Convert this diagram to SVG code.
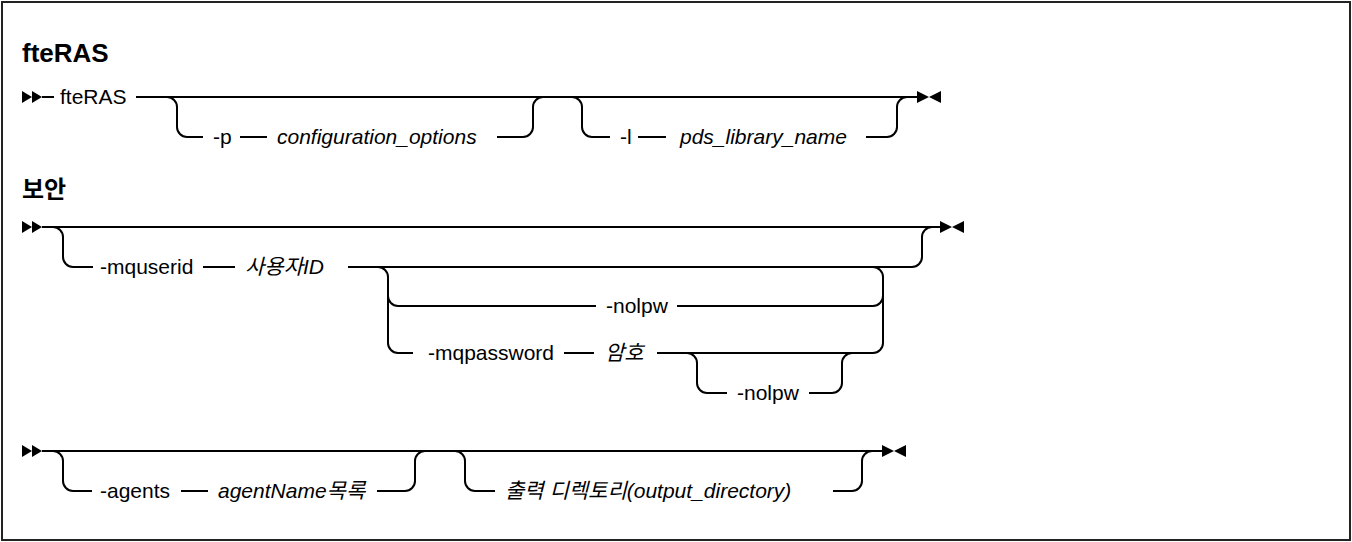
<svg xmlns="http://www.w3.org/2000/svg" width="1352" height="542" viewBox="0 0 1352 542">
<style>
.t{font-family:"Liberation Sans","Noto Sans CJK KR",sans-serif;font-size:21px;fill:#000}
.i{font-style:italic}
.h{font-family:"Liberation Sans","Noto Sans CJK KR",sans-serif;font-size:26px;font-weight:bold;fill:#000}
.hk{font-family:"Noto Sans CJK KR",sans-serif;font-size:24px;font-weight:bold;fill:#000}
.c{fill:none;stroke:#000;stroke-width:2}
.m{fill:#000}
</style>
<defs>
<g id="start"><polygon class="m" points="0,-6 10,0 0,6"/><polygon class="m" points="10,-6 20,0 10,6"/></g>
<g id="end"><polygon class="m" points="0,-6 12,0 0,6"/><polygon class="m" points="24,-6 12,0 24,6"/></g>
</defs>
<rect x="2" y="2" width="1348" height="538" fill="#fff" stroke="#222" stroke-width="2"/>

<g id="title-fteRAS"><text class="h" x="22" y="62">fteRAS</text></g>
<g id="title-security"><text class="hk" x="22" y="198">보안</text></g>

<g id="connectors">
<!-- row 1 -->
<use href="#start" x="22" y="97"/>
<path class="c" d="M42,97 H54"/>
<path class="c" d="M136,97 H918"/>
<path class="c" d="M167,97 a10,10 0 0 1 10,10 V127 a10,10 0 0 0 10,10 H203"/>
<path class="c" d="M240,137 H267"/>
<path class="c" d="M497,137 H523 a10,10 0 0 0 10,-10 V107 a10,10 0 0 1 10,-10"/>
<path class="c" d="M572,97 a10,10 0 0 1 10,10 V127 a10,10 0 0 0 10,10 H610"/>
<path class="c" d="M638,137 H666"/>
<path class="c" d="M866,137 H887 a10,10 0 0 0 10,-10 V107 a10,10 0 0 1 10,-10"/>
<use href="#end" x="917" y="97"/>
<!-- row 2 -->
<use href="#start" x="22" y="227"/>
<path class="c" d="M42,227 H941"/>
<path class="c" d="M53,227 a10,10 0 0 1 10,10 V257 a10,10 0 0 0 10,10 H93"/>
<path class="c" d="M203,267 H235"/>
<path class="c" d="M348,267 H912 a10,10 0 0 0 10,-10 V237 a10,10 0 0 1 10,-10"/>
<path class="c" d="M378,267 a10,10 0 0 1 10,10 V343 a10,10 0 0 0 10,10 H413"/>
<path class="c" d="M388,296 a10,10 0 0 0 10,10 H596"/>
<path class="c" d="M677,306 H873 a10,10 0 0 0 10,-10"/>
<path class="c" d="M564,353 H594"/>
<path class="c" d="M657,353 H873 a10,10 0 0 0 10,-10 V277 a10,10 0 0 0 -10,-10"/>
<path class="c" d="M687,353 a10,10 0 0 1 10,10 V383 a10,10 0 0 0 10,10 H727"/>
<path class="c" d="M809,393 H832 a10,10 0 0 0 10,-10 V363 a10,10 0 0 1 10,-10"/>
<use href="#end" x="940" y="227"/>
<!-- row 3 -->
<use href="#start" x="22" y="451"/>
<path class="c" d="M42,451 H883"/>
<path class="c" d="M53,451 a10,10 0 0 1 10,10 V481 a10,10 0 0 0 10,10 H92"/>
<path class="c" d="M181,491 H208"/>
<path class="c" d="M377,491 H405 a10,10 0 0 0 10,-10 V461 a10,10 0 0 1 10,-10"/>
<path class="c" d="M455,451 a10,10 0 0 1 10,10 V481 a10,10 0 0 0 10,10 H495"/>
<path class="c" d="M833,491 H852 a10,10 0 0 0 10,-10 V461 a10,10 0 0 1 10,-10"/>
<use href="#end" x="882" y="451"/>
</g>

<g id="node-fteRAS"><text class="t" x="60" y="104">fteRAS</text></g>
<g id="node-p"><text class="t" x="213" y="144">-p</text></g>
<g id="node-configuration-options"><text class="t i" x="277" y="144">configuration_options</text></g>
<g id="node-l"><text class="t" x="620" y="144">-l</text></g>
<g id="node-pds-library-name"><text class="t i" x="680" y="144">pds_library_name</text></g>

<g id="node-mquserid"><text class="t" x="100" y="274">-mquserid</text></g>
<g id="node-userid"><text class="t i" x="245" y="274">사용자ID</text></g>
<g id="node-nolpw1"><text class="t" x="606" y="313">-nolpw</text></g>
<g id="node-mqpassword"><text class="t" x="428" y="360">-mqpassword</text></g>
<g id="node-password"><text class="t i" x="605" y="360">암호</text></g>
<g id="node-nolpw2"><text class="t" x="737" y="400">-nolpw</text></g>

<g id="node-agents"><text class="t" x="100" y="498">-agents</text></g>
<g id="node-agentname"><text class="t i" x="218" y="498">agentName목록</text></g>
<g id="node-output-directory"><text class="t i" x="505" y="498">출력 디렉토리(output_directory)</text></g>
</svg>
